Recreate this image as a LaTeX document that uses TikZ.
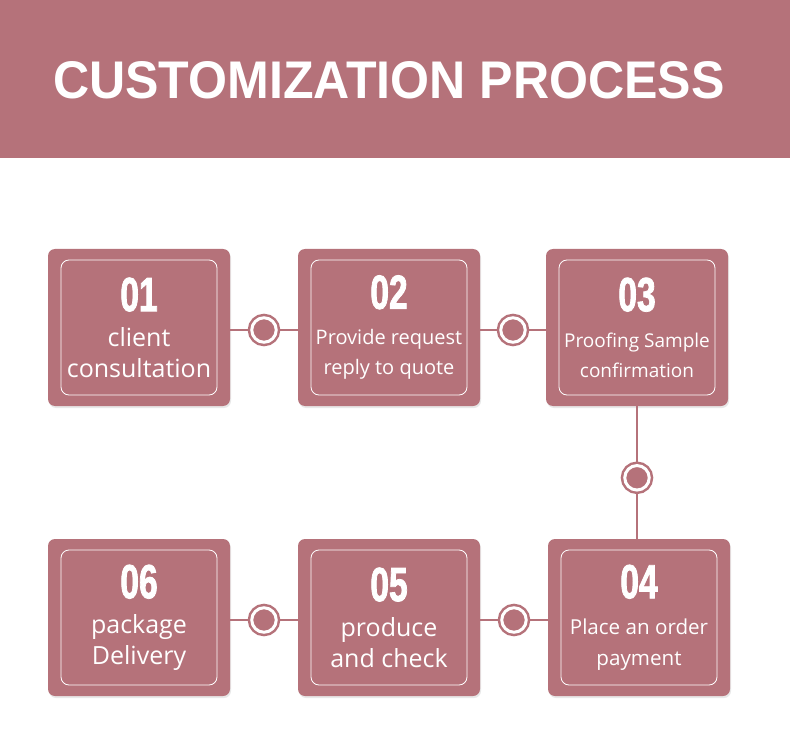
\documentclass[tikz,border=0pt]{standalone}
\usepackage{fontspec}
\setmainfont{Open Sans}
\newfontfamily\titlefont{Liberation Sans}[FakeStretch=0.945]
\newfontfamily\numfont{Liberation Sans}[UprightFont={* Bold}, FakeStretch=0.7, FakeBold=1.6]
\usetikzlibrary{positioning,shadows}

\definecolor{rose}{HTML}{B5727A}

\tikzset{
  stagebox/.style={rectangle, rounded corners=7pt, fill=rose, text=white,
    minimum width=182pt, minimum height=157pt, inner sep=0pt, align=center,
    font=\fontsize{25}{31}\selectfont,
    drop shadow={opacity=0.18, shadow xshift=1pt, shadow yshift=-2pt},
    path picture={\draw[white, line width=0.8pt, rounded corners=8pt]
      ([xshift=13pt,yshift=-11pt]path picture bounding box.north west) rectangle
      ([xshift=-13pt,yshift=11pt]path picture bounding box.south east);}},
  dot/.style={circle, fill=rose, draw=rose, double=white, double distance=3pt,
    line width=2.5pt, minimum size=24.5pt, inner sep=0pt},
  link/.style={draw=rose, line width=2pt}
}
\newcommand{\stepnum}[1]{{\numfont\fontsize{48}{48}\selectfont #1}}

\begin{document}
\begin{tikzpicture}[x=1pt, y=-1pt]
  \useasboundingbox (0,0) rectangle (790,738);
  % header band
  \fill[rose] (0,0) rectangle (790,158);
  \node[text=white, font=\titlefont\fontsize{53}{53}\selectfont\bfseries] (title) at (389,80) {CUSTOMIZATION PROCESS};

  % first row
  \node[stagebox] (s1) at (139,327.5) {\stepnum{01}\\[4pt] client\\consultation};
  \node[stagebox, font=\fontsize{20}{30}\selectfont] (s2) at (389,327.5) {\stepnum{02}\\[6pt] Provide request\\reply to quote};
  \node[stagebox, font=\fontsize{19}{30}\selectfont] (s3) at (637,327.5) {\stepnum{03}\\[6pt] Proofing Sample\\confirmation};
  % second row
  \node[stagebox, font=\fontsize{20.6}{31}\selectfont] (s4) at (639,617.5) {\stepnum{04}\\[5pt] Place an order\\payment};
  \node[stagebox] (s5) at (389,617.5) {\stepnum{05}\\[4pt] produce\\and check};
  \node[stagebox] (s6) at (139,617.5) {\stepnum{06}\\[4pt] package\\Delivery};

  \path[link]
    ([yshift=-2.5pt]s1.east) edge node[dot] (d12) {} ([yshift=-2.5pt]s2.west)
    ([yshift=-2.5pt]s2.east) edge node[dot] (d23) {} ([yshift=-2.5pt]s3.west)
    ([yshift=-2.5pt]s5.east) edge node[dot] (d45) {} ([yshift=-2.5pt]s4.west)
    ([yshift=-2.5pt]s6.east) edge node[dot] (d56) {} ([yshift=-2.5pt]s5.west);
  \draw[link] (s3.south) -- node[dot, pos=0.54] (d34) {} (s3.south |- s4.north);
\end{tikzpicture}
\end{document}
